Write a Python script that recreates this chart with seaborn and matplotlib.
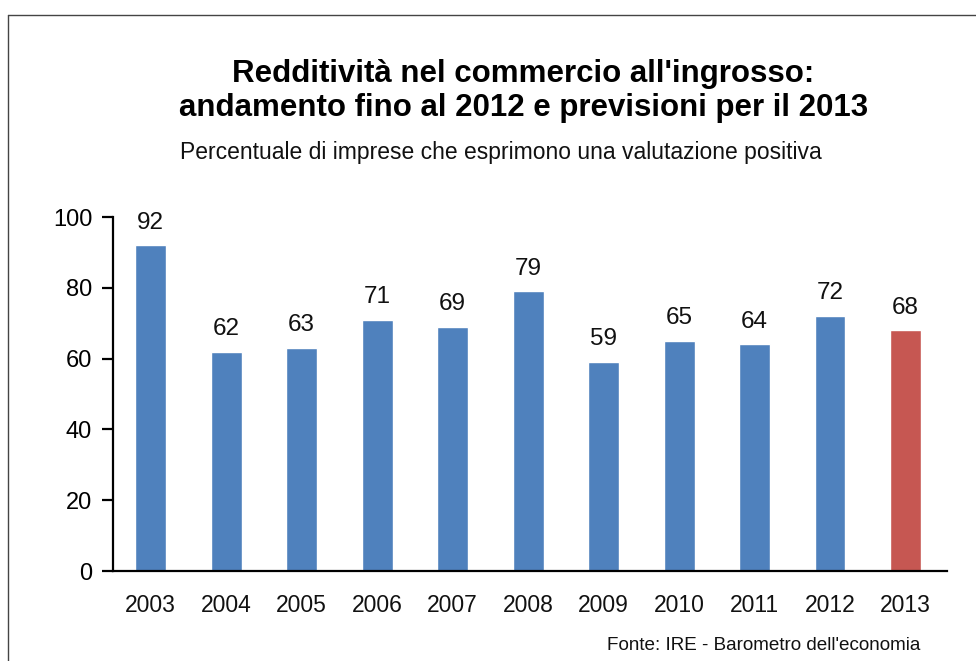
import matplotlib
matplotlib.use("Agg")
import matplotlib.pyplot as plt
import seaborn as sns
import pandas as pd

years = ["2003", "2004", "2005", "2006", "2007", "2008", "2009", "2010", "2011", "2012", "2013"]
values = [92, 62, 63, 71, 69, 79, 59, 65, 64, 72, 68]
kinds = ["consuntivo"] * 10 + ["previsione"]
yticks = [0, 20, 40, 60, 80, 100]

title = "Redditività nel commercio all'ingrosso:\nandamento fino al 2012 e previsioni per il 2013"
subtitle = "Percentuale di imprese che esprimono una valutazione positiva"
source = "Fonte: IRE - Barometro dell'economia"

sns.set_style("white")
plt.rcParams["font.family"] = ["Liberation Sans", "DejaVu Sans"]

df = pd.DataFrame({"anno": years, "valore": values, "tipo": kinds})
palette = {"consuntivo": "#4F81BD", "previsione": "#C65752"}

fig = plt.figure(figsize=(9.76, 6.61), dpi=100)
ax = fig.add_axes([113 / 976, 1 - 571 / 661, (947 - 113) / 976, (571 - 217) / 661])

sns.barplot(data=df, x="anno", y="valore", hue="tipo", palette=palette,
            dodge=False, width=0.41, legend=False, ax=ax, saturation=1)

for i, v in enumerate(values):
    ax.text(i, v + 3.3, f"{v}", ha="center", va="bottom", fontsize=17.5, color="#111111")

ax.set_ylim(0, 100)
ax.set_xlim(-0.5, 10.55)
ax.set_yticks(yticks)
ax.set_xlabel("")
ax.set_ylabel("")
for s in ["top", "right"]:
    ax.spines[s].set_visible(False)
for s in ["left", "bottom"]:
    ax.spines[s].set_color("black")
    ax.spines[s].set_linewidth(1.6)
ax.tick_params(axis="y", left=True, length=8, width=1.6, direction="out",
               labelsize=17, pad=7, colors="black")
ax.tick_params(axis="x", bottom=False, labelsize=16.5, pad=13, colors="#111111")

fig.text(0.536, 1 - 91 / 661, title, ha="center", va="center", fontsize=22.5,
         fontweight="bold", color="black", linespacing=1.2)
fig.text(0.513, 1 - 153 / 661, subtitle, ha="center", va="center", fontsize=16.5,
         color="#111111")
fig.text(0.943, 1 - 645 / 661, source, ha="right", va="center", fontsize=13.6,
         color="#111111")

# outer frame (left and top edges)
fig.add_artist(plt.Line2D([8 / 976, 8 / 976], [0, 1 - 15 / 661], transform=fig.transFigure,
                          color="#444444", linewidth=1))
fig.add_artist(plt.Line2D([8 / 976, 1], [1 - 15 / 661, 1 - 15 / 661], transform=fig.transFigure,
                          color="#444444", linewidth=1))

fig.savefig("out.png", dpi=100)
